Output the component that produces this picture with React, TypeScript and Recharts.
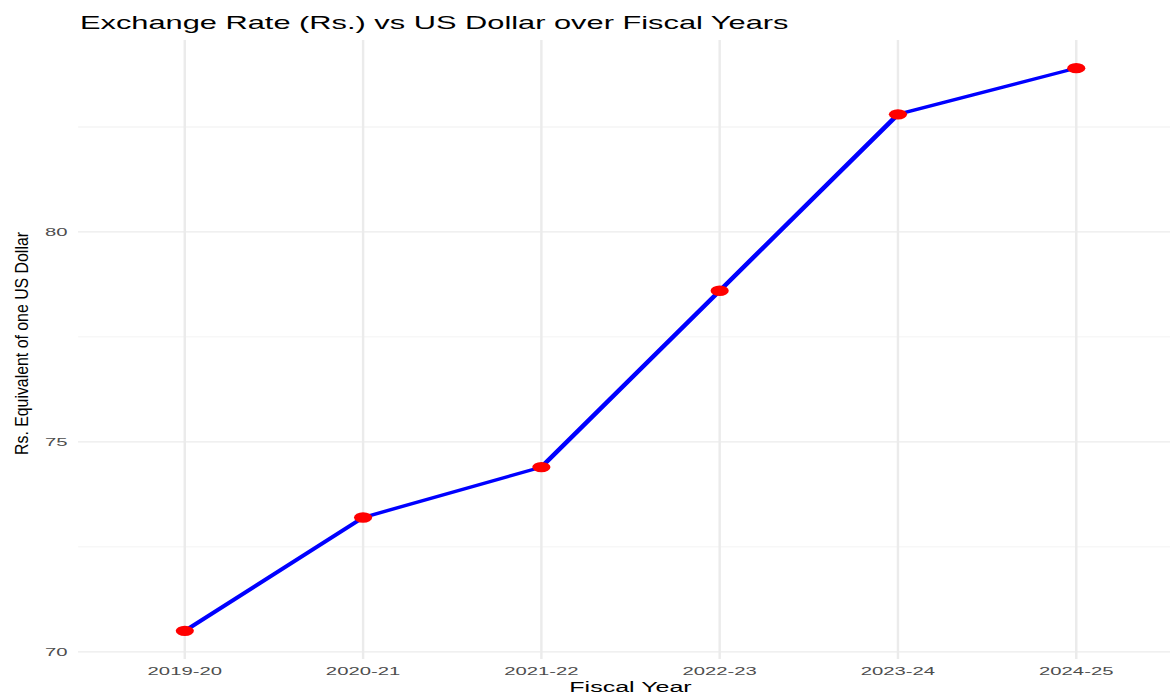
import { LineChart, Line, XAxis, YAxis, ReferenceLine, Label } from "recharts";

const FISCAL_YEARS = ["2019-20", "2020-21", "2021-22", "2022-23", "2023-24", "2024-25"];
const RATES = [70.5, 73.2, 74.4, 78.6, 82.8, 83.9];
const Y_TICKS = [70, 75, 80];
const Y_MINOR = [72.5, 77.5, 82.5];

const data = FISCAL_YEARS.map((year, i) => ({ year, rate: RATES[i] }));

// ggplot-like 5% expansion around the data range
const lo = Math.min(...RATES);
const hi = Math.max(...RATES);
const pad = (hi - lo) * 0.05;
const Y_DOMAIN = [lo - pad, hi + pad];

// the reference is stretched horizontally, so draw narrow and scale x
const SX = 1.75;
const W = 676;
const H = 694;
const FONT = "'Liberation Sans', Arial, sans-serif";
const GRID = "#ebebeb";
const TICK = { fill: "#4d4d4d", fontSize: 11.6 };

export default function App() {
  return (
    <div style={{ position: "absolute", left: 0, top: 0, width: 1170, height: H, overflow: "hidden", background: "#fff", fontFamily: FONT }}>
      <div style={{ position: "absolute", left: 0, top: 0, width: W, height: H, transform: `scaleX(${SX})`, transformOrigin: "0 0" }}>
        <LineChart width={W} height={H} data={data} margin={{ top: 40, right: 0, bottom: 0, left: 0 }}>
          <XAxis
            dataKey="year"
            height={35}
            padding={{ left: 61, right: 61 }}
            axisLine={false}
            tickLine={false}
            tick={TICK}
            interval={0}
          >
            <Label value="Fiscal Year" position="insideBottom" offset={2} fill="#000" fontSize={14.3} />
          </XAxis>
          <YAxis
            width={44.6}
            type="number"
            domain={Y_DOMAIN}
            ticks={Y_TICKS}
            allowDataOverflow
            axisLine={false}
            tickLine={false}
            tickSize={4}
            tickMargin={2}
            tick={TICK}
          />
          {Y_MINOR.map((v) => (
            <ReferenceLine key={`m${v}`} y={v} stroke="#f0f0f0" strokeWidth={0.9} />
          ))}
          {Y_TICKS.map((v) => (
            <ReferenceLine key={`y${v}`} y={v} stroke={GRID} strokeWidth={1.4} />
          ))}
          {FISCAL_YEARS.map((yr) => (
            <ReferenceLine key={yr} x={yr} stroke={GRID} strokeWidth={1.4} />
          ))}
          <Line
            type="linear"
            dataKey="rate"
            stroke="#0000ff"
            strokeWidth={3.2}
            dot={{ r: 5.2, fill: "#ff0000", stroke: "none" }}
            activeDot={false}
            isAnimationActive={false}
          />
        </LineChart>
        <svg width={W} height={50} style={{ position: "absolute", left: 0, top: 0, pointerEvents: "none" }}>
          <text x={45.7} y={29} fontSize={17.6} fill="#000" fontFamily={FONT}>
            Exchange Rate (Rs.) vs US Dollar over Fiscal Years
          </text>
        </svg>
      </div>
      <svg width={60} height={H} style={{ position: "absolute", left: 0, top: 0, pointerEvents: "none" }}>
        <text
          transform="translate(28,343.5) rotate(-90)"
          textAnchor="middle"
          fontSize={18}
          textLength={223}
          lengthAdjust="spacingAndGlyphs"
          fill="#000"
          fontFamily={FONT}
        >
          Rs. Equivalent of one US Dollar
        </text>
      </svg>
    </div>
  );
}
